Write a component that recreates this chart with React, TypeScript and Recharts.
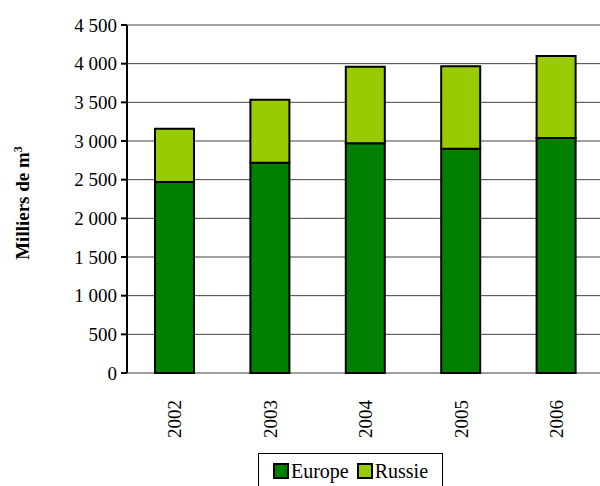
import React from 'react';
import {
  BarChart,
  Bar,
  XAxis,
  YAxis,
  CartesianGrid,
  Legend,
} from 'recharts';

const YEARS = ['2002', '2003', '2004', '2005', '2006'];
const EUROPE = [2470, 2720, 2970, 2900, 3040];
const RUSSIE = [690, 815, 990, 1065, 1060];
const Y_TICKS = [0, 500, 1000, 1500, 2000, 2500, 3000, 3500, 4000, 4500];
const SLOTS = [0, 1, 2, 3, 4, 5];

const SERIES = [
  { key: 'europe', label: 'Europe', color: '#008000' },
  { key: 'russie', label: 'Russie', color: '#99cc00' },
];

const FONT = 'Liberation Serif';

const data = YEARS.map((year, i) => ({
  year,
  europe: EUROPE[i],
  russie: RUSSIE[i],
}));

// "4500" -> "4 500"
function fmt(v: number) {
  if (v < 1000) return String(v);
  return `${Math.floor(v / 1000)} ${String(v % 1000).padStart(3, '0')}`;
}

function YearTick({ x, y, payload }: any) {
  return (
    <g transform={`translate(${x},${y + 25}) rotate(-90)`}>
      <text x={0} y={0} dy="0.35em" textAnchor="end" fontSize={19} fontFamily={FONT} fill="#000">
        {payload.value}
      </text>
    </g>
  );
}

function YTitle({ viewBox }: any) {
  const cx = (viewBox?.x ?? 0) + 22;
  const cy = (viewBox?.y ?? 0) + (viewBox?.height ?? 0) / 2 + 4;
  return (
    <text
      x={cx}
      y={cy}
      transform={`rotate(-90, ${cx}, ${cy})`}
      textAnchor="middle"
      dy="0.35em"
      fontSize={19}
      fontWeight="bold"
      fontFamily={FONT}
      fill="#000"
    >
      Milliers de m<tspan dy={-7} fontSize={12}>3</tspan>
    </text>
  );
}

function LegendBox() {
  return (
    <div
      style={{
        border: '1px solid #000',
        height: 36,
        boxSizing: 'border-box',
        display: 'flex',
        alignItems: 'center',
        justifyContent: 'center',
        gap: 8,
        fontFamily: FONT,
        fontSize: 20,
        background: '#fff',
      }}
    >
      {SERIES.map(({ key, label, color }) => (
        <span key={key} style={{ display: 'flex', alignItems: 'center', gap: 2 }}>
          <span
            style={{
              display: 'inline-block',
              width: 12,
              height: 12,
              background: color,
              border: '2px solid #000',
            }}
          />
          {label}
        </span>
      ))}
    </div>
  );
}

export default function App() {
  return (
    <div style={{ position: 'absolute', left: 0, top: 0, width: 600, height: 486, overflow: 'hidden', background: '#fff' }}>
      <BarChart
        width={620}
        height={486}
        data={data}
        barSize={39}
        margin={{ top: 25, right: 16, left: 0, bottom: 0 }}
        style={{ fontFamily: FONT }}
      >
        <CartesianGrid vertical={false} stroke="#404040" strokeWidth={1} />
        <XAxis
          xAxisId="slots"
          type="number"
          domain={[0, 5]}
          ticks={SLOTS}
          tick={false}
          tickSize={6}
          height={0}
          axisLine={{ stroke: '#000', strokeWidth: 2 }}
          tickLine={{ stroke: '#000', strokeWidth: 2 }}
        />
        <XAxis
          xAxisId="cat"
          dataKey="year"
          height={77}
          axisLine={false}
          tickLine={false}
          tickSize={0}
          tick={<YearTick />}
          interval={0}
        />
        <YAxis
          domain={[0, 4500]}
          ticks={Y_TICKS}
          tickFormatter={fmt}
          width={127}
          tickSize={6}
          tickMargin={4}
          interval={0}
          axisLine={{ stroke: '#000', strokeWidth: 2 }}
          tickLine={{ stroke: '#000', strokeWidth: 2 }}
          tick={{ fontSize: 19, fontFamily: FONT, fill: '#000' }}
          label={<YTitle />}
        />
        <Legend
          content={<LegendBox />}
          verticalAlign="bottom"
          wrapperStyle={{ left: 258, width: 185, bottom: -3 }}
        />
        {SERIES.map(({ key, color }) => (
          <Bar
            key={key}
            xAxisId="cat"
            dataKey={key}
            stackId="a"
            fill={color}
            stroke="#000"
            strokeWidth={2}
            isAnimationActive={false}
          />
        ))}
      </BarChart>
    </div>
  );
}
